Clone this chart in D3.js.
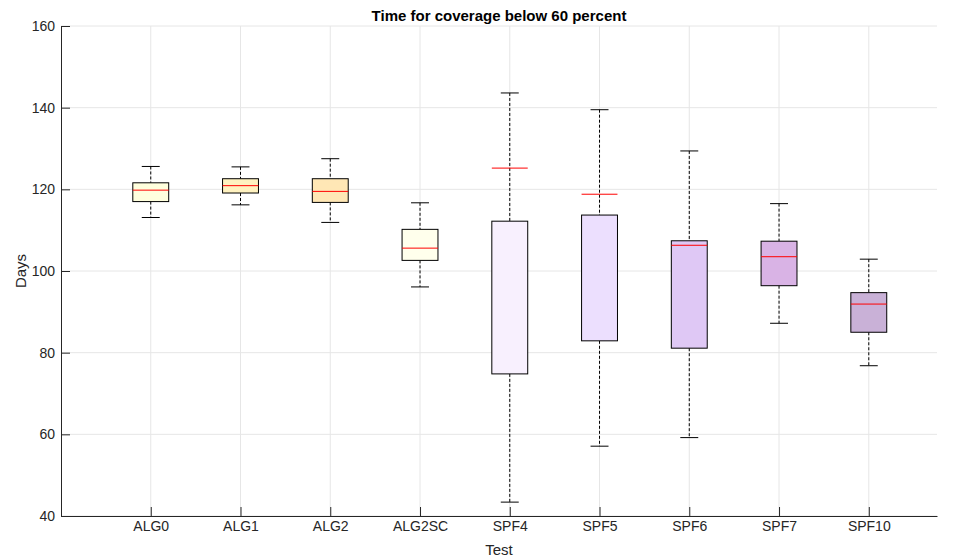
<!DOCTYPE html>
<html>
<head>
<meta charset="utf-8">
<script src="https://cdn.jsdelivr.net/npm/d3@7"></script>
<style>
  body { margin: 0; background: #fff; }
  svg text { font-family: "Liberation Sans", Arial, sans-serif; fill: #262626; }
</style>
</head>
<body>
<div id="chart"></div>
<script>
const categories = ['ALG0', 'ALG1', 'ALG2', 'ALG2SC', 'SPF4', 'SPF5', 'SPF6', 'SPF7', 'SPF10'];
const whiskerLow  = [113.1, 116.2, 111.9, 96.1, 43.4, 57.1, 59.2, 87.2, 76.8];
const q1          = [117.0, 119.1, 116.8, 102.6, 74.8, 82.9, 81.1, 96.4, 85.0];
const medians     = [119.8, 120.9, 119.5, 105.6, 125.2, 118.8, 106.3, 103.5, 91.9];
const q3          = [121.6, 122.6, 122.6, 110.2, 112.2, 113.7, 107.4, 107.3, 94.7];
const whiskerHigh = [125.6, 125.5, 127.5, 116.7, 143.6, 139.5, 129.4, 116.5, 102.9];
const yTicks = [40, 60, 80, 100, 120, 140, 160];
const fills = ['#ffffdd', '#fff2c0', '#ffe7b5', '#ffffec', '#f8f0fe', '#ecdffe', '#dfc8f5', '#d9b3e5', '#c9b1d7'];

const width = 953, height = 558;
const margin = {left: 61, right: 16, top: 26, bottom: 42};

const svg = d3.select('#chart').append('svg')
    .attr('width', width)
    .attr('height', height);

const x = d3.scaleLinear()
    .domain([0, 9.76])
    .range([margin.left, width - margin.right]);
const y = d3.scaleLinear()
    .domain([40, 160])
    .range([height - margin.bottom, margin.top]);

const boxW = x(0.4) - x(0);
const capW = boxW / 2;

// grid
const grid = svg.append('g').attr('stroke', '#e6e6e6').attr('stroke-width', 1);
grid.selectAll('.gy').data(yTicks).join('line')
    .attr('x1', x(0)).attr('x2', x(9.76))
    .attr('y1', d => y(d)).attr('y2', d => y(d));
grid.selectAll('.gx').data(categories).join('line')
    .attr('x1', (d, i) => x(i + 1)).attr('x2', (d, i) => x(i + 1))
    .attr('y1', y(40)).attr('y2', y(160));

// axes
const yAxis = svg.append('g')
    .attr('transform', `translate(${margin.left},0)`)
    .call(d3.axisLeft(y).tickValues(yTicks).tickSizeInner(-9).tickSizeOuter(0).tickPadding(6));
const xAxis = svg.append('g')
    .attr('transform', `translate(0,${height - margin.bottom})`)
    .call(d3.axisBottom(x).tickValues(d3.range(1, 10)).tickFormat(d => categories[d - 1])
        .tickSizeInner(-9).tickSizeOuter(0).tickPadding(5));
[yAxis, xAxis].forEach(a => {
    a.selectAll('path, line').attr('stroke', '#262626');
    a.selectAll('text').attr('font-size', 14).attr('fill', '#262626');
});

// boxes
const idx = d3.range(categories.length);
const boxes = svg.append('g').selectAll('g').data(idx).join('g');

boxes.append('line')
    .attr('x1', i => x(i + 1)).attr('x2', i => x(i + 1))
    .attr('y1', i => y(whiskerHigh[i])).attr('y2', i => y(q3[i]))
    .attr('stroke', '#000').attr('stroke-dasharray', '3,2');
boxes.append('line')
    .attr('x1', i => x(i + 1)).attr('x2', i => x(i + 1))
    .attr('y1', i => y(q1[i])).attr('y2', i => y(whiskerLow[i]))
    .attr('stroke', '#000').attr('stroke-dasharray', '3,2');
boxes.append('line')
    .attr('x1', i => x(i + 1) - capW / 2).attr('x2', i => x(i + 1) + capW / 2)
    .attr('y1', i => y(whiskerHigh[i])).attr('y2', i => y(whiskerHigh[i]))
    .attr('stroke', '#000');
boxes.append('line')
    .attr('x1', i => x(i + 1) - capW / 2).attr('x2', i => x(i + 1) + capW / 2)
    .attr('y1', i => y(whiskerLow[i])).attr('y2', i => y(whiskerLow[i]))
    .attr('stroke', '#000');
boxes.append('rect')
    .attr('x', i => x(i + 1) - boxW / 2)
    .attr('width', boxW)
    .attr('y', i => y(q3[i]))
    .attr('height', i => y(q1[i]) - y(q3[i]))
    .attr('fill', i => fills[i])
    .attr('stroke', '#000');
boxes.append('line')
    .attr('x1', i => x(i + 1) - boxW / 2).attr('x2', i => x(i + 1) + boxW / 2)
    .attr('y1', i => y(medians[i])).attr('y2', i => y(medians[i]))
    .attr('stroke', '#ff0000');

// labels
svg.append('text')
    .attr('x', x(4.88)).attr('y', 21)
    .attr('text-anchor', 'middle')
    .attr('font-size', 15).attr('font-weight', 'bold')
    .style('fill', '#000')
    .text('Time for coverage below 60 percent');
svg.append('text')
    .attr('x', x(4.88)).attr('y', 555)
    .attr('text-anchor', 'middle')
    .attr('font-size', 15)
    .text('Test');
svg.append('text')
    .attr('transform', `translate(26,${(y(40) + y(160)) / 2}) rotate(-90)`)
    .attr('text-anchor', 'middle')
    .attr('font-size', 15)
    .text('Days');
</script>
</body>
</html>
